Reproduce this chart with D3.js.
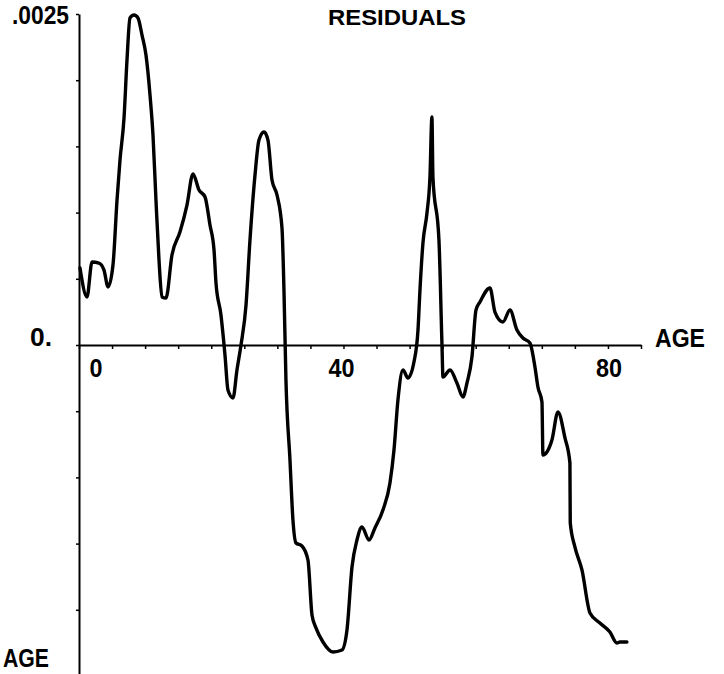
<!DOCTYPE html>
<html>
<head>
<meta charset="utf-8">
<script src="https://cdn.jsdelivr.net/npm/d3@7"></script>
<style>
  html, body { margin: 0; padding: 0; background: #fff; }
  svg { display: block; }
  text { font-family: "Liberation Sans", Arial, sans-serif; font-weight: bold; fill: #000; }
</style>
</head>
<body>
<svg id="chart" width="724" height="674"></svg>
<script>
// Age (years) of each traced point
const ages = [0.15, 1.21, 1.97, 3.02, 3.78, 4.39, 5.14, 5.75, 6.20, 6.81, 7.26, 7.71, 8.32, 8.92, 9.53,
  10.13, 10.74, 11.19, 11.64, 12.10, 12.55, 13.16, 14.06, 15.27, 16.33, 17.24, 18.15, 19.06, 19.81, 20.42,
  20.72, 21.47, 22.08, 22.53, 23.29, 23.89, 24.50, 25.26, 25.86, 26.62, 27.22, 27.98, 28.58, 29.19, 29.95,
  30.70, 31.00, 31.30, 31.91, 32.36, 32.82, 33.72, 34.63, 35.24, 35.84, 36.90, 38.41, 39.77, 40.53, 41.29,
  42.04, 42.80, 43.86, 44.76, 45.97, 47.03, 47.64, 48.24, 49.00, 49.75, 50.66, 51.27, 51.57, 52.02, 52.63,
  53.08, 53.38, 53.53, 54.44, 54.90, 55.05, 56.11, 57.16, 58.07, 58.68, 59.43, 60.04, 60.64, 62.16, 62.91,
  64.12, 65.18, 66.24, 67.15, 68.20, 68.96, 69.41, 70.02, 70.17, 70.77, 71.53, 72.44, 73.50, 74.25, 74.30,
  75.01, 76.07, 77.28, 78.79, 80.30, 81.36, 81.82, 82.87];
// Residual value at each age
const residuals = [5.82e-4, 3.63e-4, 6.27e-4, 6.19e-4, 5.66e-4, 4.38e-4, 6.04e-4, 10.95e-4, 13.97e-4, 17.15e-4,
  21.53e-4, 24.70e-4, 24.92e-4, 24.70e-4, 23.41e-4, 21.90e-4, 18.88e-4, 15.86e-4, 10.95e-4, 6.42e-4,
  3.63e-4, 3.55e-4, 6.80e-4, 8.53e-4, 10.57e-4, 12.92e-4, 11.71e-4, 11.18e-4, 9.06e-4, 7.18e-4,
  4.68e-4, 2.27e-4, -0.76e-4, -3.40e-4, -4.00e-4, -1.89e-4, 0, 3.02e-4, 7.93e-4, 12.84e-4,
  15.48e-4, 16.09e-4, 15.48e-4, 12.46e-4, 11.33e-4, 8.84e-4, 4.15e-4, -2.64e-4, -8.69e-4, -13.22e-4,
  -14.95e-4, -15.18e-4, -16.24e-4, -20.39e-4, -21.37e-4, -22.43e-4, -23.19e-4, -23.04e-4, -21.53e-4, -16.77e-4,
  -14.73e-4, -13.75e-4, -14.73e-4, -13.82e-4, -12.46e-4, -10.42e-4, -7.93e-4, -4.15e-4, -1.89e-4, -2.49e-4,
  -1.28e-4, 1.13e-4, 4.15e-4, 7.70e-4, 9.97e-4, 12.69e-4, 17.22e-4, 12.69e-4, 7.93e-4, 0,
  -2.42e-4, -1.89e-4, -2.87e-4, -3.93e-4, -2.87e-4, -0.91e-4, 2.64e-4, 3.25e-4, 4.31e-4, 2.49e-4,
  1.74e-4, 2.64e-4, 1.13e-4, 0.53e-4, 0.15e-4, -1.66e-4, -3.17e-4, -4.31e-4, -8.31e-4, -8.08e-4,
  -7.18e-4, -5.06e-4, -7.02e-4, -8.91e-4, -13.44e-4, -15.26e-4, -16.99e-4, -20.24e-4, -21.00e-4, -21.68e-4,
  -22.51e-4, -22.43e-4, -22.43e-4];

const xTicks = d3.range(0, 86, 5);
const xTickLabels = ["0", "40", "80"];
const yTicks = [-0.0025, -0.002, -0.0015, -0.001, -0.0005, 0, 0.0005, 0.001, 0.0015, 0.002, 0.0025];
const yTopLabel = ".0025";
const yZeroLabel = "0.";
const title = "RESIDUALS";
const xAxisTitle = "AGE";

const svg = d3.select("#chart");
const x = d3.scaleLinear().domain([0, 85]).range([79, 641]);
const y = d3.scaleLinear().domain([-0.0025, 0.0025]).range([676, 14]);

// x axis along zero
const xAxis = svg.append("g")
  .attr("transform", `translate(0,${y(0)})`)
  .call(d3.axisBottom(x).tickValues(xTicks).tickSize(4).tickSizeOuter(0).tickFormat(""));
xAxis.select(".domain").attr("stroke", "#000").attr("stroke-width", 2);
xAxis.selectAll(".tick line").attr("stroke", "#000").attr("stroke-width", 1.5);

// y axis
const yAxis = svg.append("g")
  .attr("transform", `translate(${x(0)},0)`)
  .call(d3.axisLeft(y).tickValues(yTicks).tickSize(3).tickSizeOuter(0).tickFormat(""));
yAxis.select(".domain").attr("stroke", "#000").attr("stroke-width", 2);
yAxis.selectAll(".tick line").attr("stroke", "#000").attr("stroke-width", 1.5);

// data line
const line = d3.line().x((d, i) => x(ages[i])).y(d => y(d)).curve(d3.curveMonotoneX);
svg.append("path")
  .datum(residuals)
  .attr("d", line)
  .attr("fill", "none")
  .attr("stroke", "#000")
  .attr("stroke-width", 3.4)
  .attr("stroke-linejoin", "round")
  .attr("stroke-linecap", "round");

// texts
svg.append("text").attr("x", 328).attr("y", 25).attr("font-size", 22)
  .attr("textLength", 138).attr("lengthAdjust", "spacingAndGlyphs").text(title);
svg.append("text").attr("x", 12).attr("y", 24).attr("font-size", 26)
  .attr("textLength", 57).attr("lengthAdjust", "spacingAndGlyphs").text(yTopLabel);
svg.append("text").attr("x", 30).attr("y", 346).attr("font-size", 25)
  .attr("textLength", 22).attr("lengthAdjust", "spacingAndGlyphs").text(yZeroLabel);

const labelOffsets = [17, -2, 1];
xTickLabels.forEach((t, i) => {
  svg.append("text")
    .attr("x", x(+t) + labelOffsets[i]).attr("y", 377)
    .attr("font-size", 26).attr("text-anchor", "middle")
    .attr("textLength", t.length * 13).attr("lengthAdjust", "spacingAndGlyphs")
    .text(t);
});

svg.append("text").attr("x", 655).attr("y", 347).attr("font-size", 25)
  .attr("textLength", 50).attr("lengthAdjust", "spacingAndGlyphs").text(xAxisTitle);
svg.append("text").attr("x", 3).attr("y", 667).attr("font-size", 25)
  .attr("textLength", 46).attr("lengthAdjust", "spacingAndGlyphs").text(xAxisTitle);
</script>
</body>
</html>
